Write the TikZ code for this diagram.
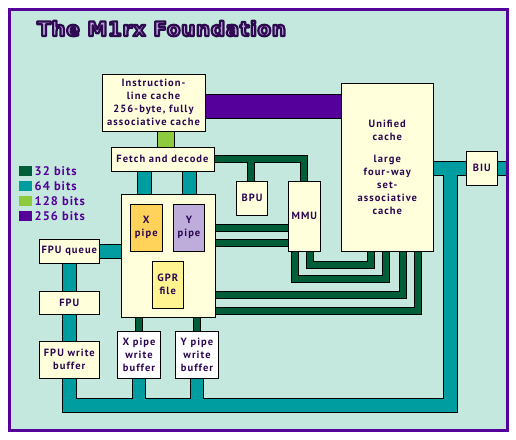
\documentclass[tikz,border=0pt]{standalone}
\usepackage{fontspec}
\setmainfont{PT Sans}
\newfontfamily\boxfont[LetterSpace=10]{PT Sans}
\newfontfamily\legfont[LetterSpace=8]{PT Sans}
\newfontfamily\titlefont[LetterSpace=3]{DejaVu Sans}
\definecolor{bg}{HTML}{C4E8DD}
\definecolor{frame}{HTML}{55009B}
\definecolor{c32}{HTML}{005F38}
\definecolor{c64}{HTML}{009DA0}
\definecolor{c128}{HTML}{8DCB3E}
\definecolor{c256}{HTML}{55009B}
\definecolor{cream}{HTML}{FFFFDC}
\definecolor{xorange}{HTML}{FFD35A}
\definecolor{ylav}{HTML}{BEADDA}
\definecolor{gpryel}{HTML}{FFF490}
\definecolor{txt}{HTML}{2B0752}
\definecolor{tlav}{HTML}{BBA6DC}
\definecolor{tdark}{HTML}{2E0A50}
\newcommand\outlinedtext[1]{\special{pdf:literal direct 2 Tr 2.2 w 1 J 1 j 0.180 0.039 0.314 RG}#1\special{pdf:literal direct 0 Tr}}
\tikzset{
  box/.style 2 args={draw=black, line width=1pt, fill=cream, text=txt,
    font=\boxfont\bfseries\fontsize{10.5}{13}\selectfont, align=center,
    inner sep=0pt, minimum width=#1pt, minimum height=#2pt},
  anchorbox/.style 2 args={inner sep=0pt, minimum width=#1pt, minimum height=#2pt},
  legsq/.style={fill=#1, draw=none, minimum width=13pt, minimum height=10pt, inner sep=0pt},
  legtxt/.style={text=frame, font=\legfont\bfseries\fontsize{12.5}{14}\selectfont, anchor=west, inner sep=0pt},
  ttl/.style={font=\titlefont\bfseries\fontsize{20}{22}\selectfont, anchor=base west, inner sep=0pt},
}
\newcommand\drawbuses{%
  \draw[b256] ([yshift=-4pt]icache.center) -- ([yshift=-4pt]icache.center -| ucache.center);
  \draw[b128] ([xshift=12.5pt]icache.center) -- ([xshift=12.5pt]icache.center |- fetch.center);
  \draw[b64] ([xshift=-18pt]fetch.center) -- ([xshift=-18pt]fetch.center |- core.center);
  \draw[b64] ([xshift=26.5pt]fetch.center) -- ([xshift=26.5pt]fetch.center |- core.center);
  \draw[b32] (fetch.center) -| (mmu.center);
  \draw[b32] ([xshift=-1.5pt]bpu.center) -- ([xshift=-1.5pt]bpu.center |- fetch.center);
  \draw[b32] ([yshift=27.2pt]core.center) -- ([yshift=27.2pt]core.center -| mmu.center);
  \draw[b32] ([yshift=12.2pt]core.center) -- ([yshift=12.2pt]core.center -| mmu.center);
  \draw[b32] ([yshift=-39.5pt]core.center) -| ([xshift=15.4pt]ucache.center);
  \draw[b32] ([yshift=-55pt]core.center) -| ([xshift=31pt]ucache.center);
  \draw[b32] ([xshift=5.9pt]mmu.center) |- (loopA) -| ([xshift=-16.8pt]ucache.center);
  \draw[b32] ([xshift=-9.6pt]mmu.center) |- (loopB) -| ([xshift=-1pt]ucache.center);
  \draw[b32] (core.center -| xwb.center) -- (xwb.center);
  \draw[b32] (core.center -| ywb.center) -- (ywb.center);
  \draw[b64] (fpuq.center) -- (fpuq.center -| core.center);
  \draw[b64] (fpuq.center) |- (busBR) -- (busBR |- biu.center);
  \draw[b64] (ucache.center |- biu.center) -- (biu.center -| busEdge);
  \draw[b64x] (xwb.center) -- (xwb.center |- busBR);
  \draw[b64x] (ywb.center) -- (ywb.center |- busBR);
}
\begin{document}
\begin{tikzpicture}[x=1pt, y=-1pt]
\useasboundingbox (0,0) rectangle (516,439);
\fill[white] (0,0) rectangle (516,439);
\fill[bg] (9.6,9.6) rectangle (507.3,430.6);

% title: lavender text with a dark outline
\node[ttl, text=tlav] (title) at (37, 36) {\outlinedtext{The M1rx Foundation}};

% named coordinates
\coordinate (loopA) at (340, 264.5);
\coordinate (loopB) at (340, 279.3);
\coordinate (busBR) at (450, 405.8);
\coordinate (busEdge) at (507, 0);

% anchor shapes for the boxes (empty, drawn over later)
\node[anchorbox={103}{57}] (icache) at (153.5,102.5) {};
\node[anchorbox={103}{24}] (fetch) at (162.5,159) {};
\node[anchorbox={94}{123}] (core) at (168,255.5) {};
\node[anchorbox={31.4}{34}] (bpu) at (252,198.3) {};
\node[anchorbox={32}{70}] (mmu) at (304.3,216.3) {};
\node[anchorbox={92}{168}] (ucache) at (387.3,167.3) {};
\node[anchorbox={31.3}{34}] (biu) at (481.7,168.3) {};
\node[anchorbox={60}{24}] (fpuq) at (69.3,251.3) {};
\node[anchorbox={60}{23}] (fpu) at (69.3,302.8) {};
\node[anchorbox={60}{37}] (fpuwb) at (69.3,359.8) {};
\node[anchorbox={43.4}{47}] (xwb) at (139,354.8) {};
\node[anchorbox={43.4}{47}] (ywb) at (197,355) {};

% buses: outline pass then colour pass
\begin{scope}[b32/.style={draw=black, line width=8pt},
  b64/.style={draw=black, line width=15pt},
  b64x/.style={draw=black, line width=14pt},
  b128/.style={draw=black, line width=18pt},
  b256/.style={draw=black, line width=25pt}]
  \drawbuses
\end{scope}
\begin{scope}[b32/.style={draw=c32, line width=6pt},
  b64/.style={draw=c64, line width=13pt},
  b64x/.style={draw=c64, line width=12pt},
  b128/.style={draw=c128, line width=16pt},
  b256/.style={draw=c256, line width=23pt}]
  \drawbuses
\end{scope}

% visible boxes
\node[box={103}{57}] (icacheB) at (icache) {Instruction-\\line cache\\256-byte, fully\\associative cache};
\node[box={103}{24}] (fetchB) at (fetch) {Fetch and decode};
\node[box={94}{123}] (coreB) at (core) {};
\node[box={32}{47}, fill=xorange] (xpipe) at (146.3,227.8) {X\\pipe};
\node[box={31.4}{47}, fill=ylav] (ypipe) at (189,227.8) {Y\\pipe};
\node[box={31}{47}, fill=gpryel] (gpr) at (167.8,284.8) {GPR\\file};
\node[box={31.4}{34}] (bpuB) at (bpu) {BPU};
\node[box={32}{70}] (mmuB) at (mmu) {MMU};
\node[box={92}{168}] (ucacheB) at (ucache) {Unified\\cache\\[9pt]large\\four-way\\set-\\associative\\cache};
\node[box={31.3}{34}] (biuB) at (biu) {BIU};
\node[box={60}{24}] (fpuqB) at (fpuq) {FPU queue};
\node[box={60}{23}] (fpuB) at (fpu) {FPU};
\node[box={60}{37}] (fpuwbB) at (fpuwb) {FPU write\\buffer};
\node[box={43.4}{47}, fill=white] (xwbB) at (xwb) {X pipe\\write\\buffer};
\node[box={43.4}{47}, fill=white] (ywbB) at (ywb) {Y pipe\\write\\buffer};

% legend
\node[legsq=c32] (l32) at (25.5,170.7) {};
\node[legsq=c64] (l64) at (25.5,186.3) {};
\node[legsq=c128] (l128) at (25.5,201) {};
\node[legsq=c256] (l256) at (25.5,215.7) {};
\node[legtxt] (t32) at (34.5,170.7) {32 bits};
\node[legtxt] (t64) at (34.5,186.3) {64 bits};
\node[legtxt] (t128) at (34.5,201) {128 bits};
\node[legtxt] (t256) at (34.5,215.7) {256 bits};

% frame
\draw[frame, line width=3.3pt] (9.6,9.6) rectangle (507.3,430.6);
\end{tikzpicture}
\end{document}
